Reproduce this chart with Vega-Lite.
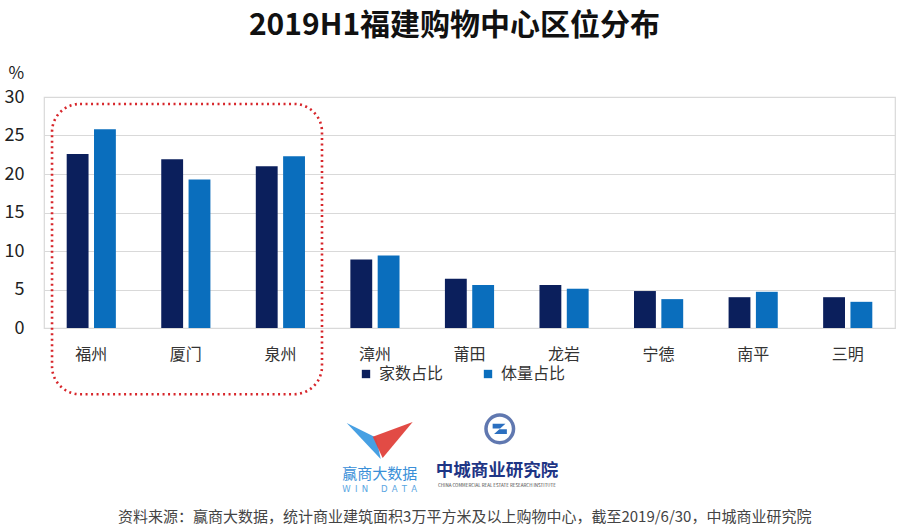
{
  "$schema": "https://vega.github.io/schema/vega-lite/v6.json",
  "width": 851,
  "height": 231,
  "autosize": {"type": "none"},
  "padding": {"left": 44, "top": 97, "right": 15, "bottom": 197},
  "background": "white",
  "config": {
    "font": "Noto Sans CJK SC",
    "view": {"stroke": "#d9d9d9", "strokeWidth": 1.2}
  },
  "title": {
    "text": "2019H1福建购物中心区位分布",
    "fontSize": 30,
    "fontWeight": "bold",
    "color": "#111111",
    "anchor": "middle",
    "dx": -15,
    "offset": 23,
    "font": "Noto Sans CJK SC"
  },
  "resolve": {"scale": {"x": "independent", "color": "independent"}, "axis": {"x": "independent", "y": "independent"}},
  "layer": [
    {
      "data": {
        "values": [
          {"city": "福州", "series": "家数占比", "value": 22.6},
          {"city": "福州", "series": "体量占比", "value": 25.8},
          {"city": "厦门", "series": "家数占比", "value": 21.9},
          {"city": "厦门", "series": "体量占比", "value": 19.3},
          {"city": "泉州", "series": "家数占比", "value": 21.0},
          {"city": "泉州", "series": "体量占比", "value": 22.3},
          {"city": "漳州", "series": "家数占比", "value": 8.9},
          {"city": "漳州", "series": "体量占比", "value": 9.4},
          {"city": "莆田", "series": "家数占比", "value": 6.4},
          {"city": "莆田", "series": "体量占比", "value": 5.6},
          {"city": "龙岩", "series": "家数占比", "value": 5.6},
          {"city": "龙岩", "series": "体量占比", "value": 5.1},
          {"city": "宁德", "series": "家数占比", "value": 4.8},
          {"city": "宁德", "series": "体量占比", "value": 3.75},
          {"city": "南平", "series": "家数占比", "value": 4.0},
          {"city": "南平", "series": "体量占比", "value": 4.7},
          {"city": "三明", "series": "家数占比", "value": 4.0},
          {"city": "三明", "series": "体量占比", "value": 3.4}
        ]
      },
      "mark": {"type": "bar"},
      "encoding": {
        "x": {
          "field": "city",
          "type": "nominal",
          "sort": ["福州", "厦门", "泉州", "漳州", "莆田", "龙岩", "宁德", "南平", "三明"],
          "scale": {"paddingInner": 0.48, "paddingOuter": 0.24},
          "axis": {
            "title": null,
            "labelAngle": 0,
            "labelFontSize": 16,
            "labelColor": "#333333",
            "labelPadding": 18,
            "domain": false,
            "ticks": false
          }
        },
        "xOffset": {
          "field": "series",
          "type": "nominal",
          "sort": ["家数占比", "体量占比"],
          "scale": {"paddingInner": 0.2, "paddingOuter": 0}
        },
        "y": {
          "field": "value",
          "type": "quantitative",
          "scale": {"domain": [0, 30], "nice": false},
          "axis": {
            "title": "%",
            "titleAngle": 0,
            "titleAlign": "left",
            "titleBaseline": "middle",
            "titleX": -36,
            "titleY": -24,
            "titleFontSize": 17,
            "titleFontWeight": "normal",
            "titleColor": "#222222",
            "values": [0, 5, 10, 15, 20, 25, 30],
            "labelFontSize": 18,
            "labelColor": "#222222",
            "labelPadding": 20,
            "domain": false,
            "ticks": false,
            "gridColor": "#d9d9d9",
            "gridWidth": 1.2
          }
        },
        "color": {
          "field": "series",
          "type": "nominal",
          "sort": ["家数占比", "体量占比"],
          "scale": {"range": ["#0b1f5c", "#0a6ebd"]},
          "legend": {
            "title": null,
            "orient": "none",
            "direction": "horizontal",
            "legendX": 314,
            "legendY": 269,
            "symbolType": "square",
            "symbolSize": 70,
            "symbolStrokeWidth": 0,
            "labelFontSize": 16,
            "labelColor": "#333333",
            "labelOffset": 5,
            "columnPadding": 36
          }
        }
      }
    },
    {
      "encoding": {
        "x": {"field": "x", "type": "quantitative", "scale": {"domain": [0, 9], "nice": false, "zero": false}, "axis": null},
        "y": {"field": "y", "type": "quantitative", "axis": null}
      },
      "layer": [
        {
          "data": {"values": [{"x": 0.085, "x1": 2.94, "y": -8.6, "y1": 29.1}]},
          "mark": {"type": "rect", "fill": null, "stroke": "#d7262b", "strokeWidth": 2.6, "strokeDash": [2, 3.5], "cornerRadius": 28, "clip": false},
          "encoding": {
            "x2": {"field": "x1"},
            "y2": {"field": "y1"}
          }
        },
        {
          "data": {"values": [{"x": 3.55, "y": -14.6}]},
          "mark": {"type": "point", "filled": true, "size": 4356, "opacity": 0.95, "color": "#3d9be2", "shape": "M -1 -0.53 L -0.1 -0.08 L 0.03 0.56 Z"}
        },
        {
          "data": {"values": [{"x": 3.55, "y": -14.6}]},
          "mark": {"type": "point", "filled": true, "size": 4356, "opacity": 0.95, "color": "#e0413b", "shape": "M 1 -0.56 L 0.09 0.53 L -0.21 -0.11 Z"}
        },
        {
          "data": {"values": [{"x": 4.82, "y": -13.1}]},
          "mark": {"type": "point", "filled": false, "size": 760, "stroke": "#1d3f8f", "strokeWidth": 3.5}
        },
        {
          "data": {"values": [{"x": 4.82, "y": -13.1}]},
          "mark": {"type": "point", "filled": true, "size": 360, "color": "#2b6fc0", "opacity": 1, "shape": "M -0.75 -0.55 L 0.6 -0.55 L -0.05 0.05 L 0.75 0.05 L 0.75 0.55 L -0.6 0.55 L 0.05 -0.05 L -0.75 -0.05 Z"}
        },
        {
          "data": {"values": [{"x": 3.55, "y": -18.96, "t": "赢商大数据"}]},
          "mark": {"type": "text", "baseline": "middle", "align": "center", "fontSize": 15, "color": "#3a8fd8"},
          "encoding": {"text": {"field": "t"}}
        },
        {
          "data": {"values": [{"x": 3.55, "y": -20.9, "t": "W\u2002I\u2002N\u2003\u2002D\u2002A\u2002T\u2002A"}]},
          "mark": {"type": "text", "baseline": "middle", "align": "center", "fontSize": 8.5, "color": "#5aa6e2", "font": "DejaVu Sans"},
          "encoding": {"text": {"field": "t"}}
        },
        {
          "data": {"values": [{"x": 4.79, "y": -18.57, "t": "中城商业研究院"}]},
          "mark": {"type": "text", "baseline": "middle", "align": "center", "fontSize": 17.5, "fontWeight": "bold", "color": "#1e3585"},
          "encoding": {"text": {"field": "t"}}
        },
        {
          "data": {"values": [{"x": 4.79, "y": -20.5, "t": "CHINA COMMERCIAL REAL ESTATE RESEARCH INSTITUTE"}]},
          "mark": {"type": "text", "baseline": "middle", "align": "center", "fontSize": 4.5, "color": "#444444"},
          "encoding": {"text": {"field": "t"}}
        },
        {
          "data": {"values": [{"x": 4.45, "y": -24.55, "t": "资料来源：赢商大数据，统计商业建筑面积3万平方米及以上购物中心，截至2019/6/30，中城商业研究院"}]},
          "mark": {"type": "text", "baseline": "middle", "align": "center", "fontSize": 15, "color": "#444444"},
          "encoding": {"text": {"field": "t"}}
        }
      ]
    }
  ]
}
